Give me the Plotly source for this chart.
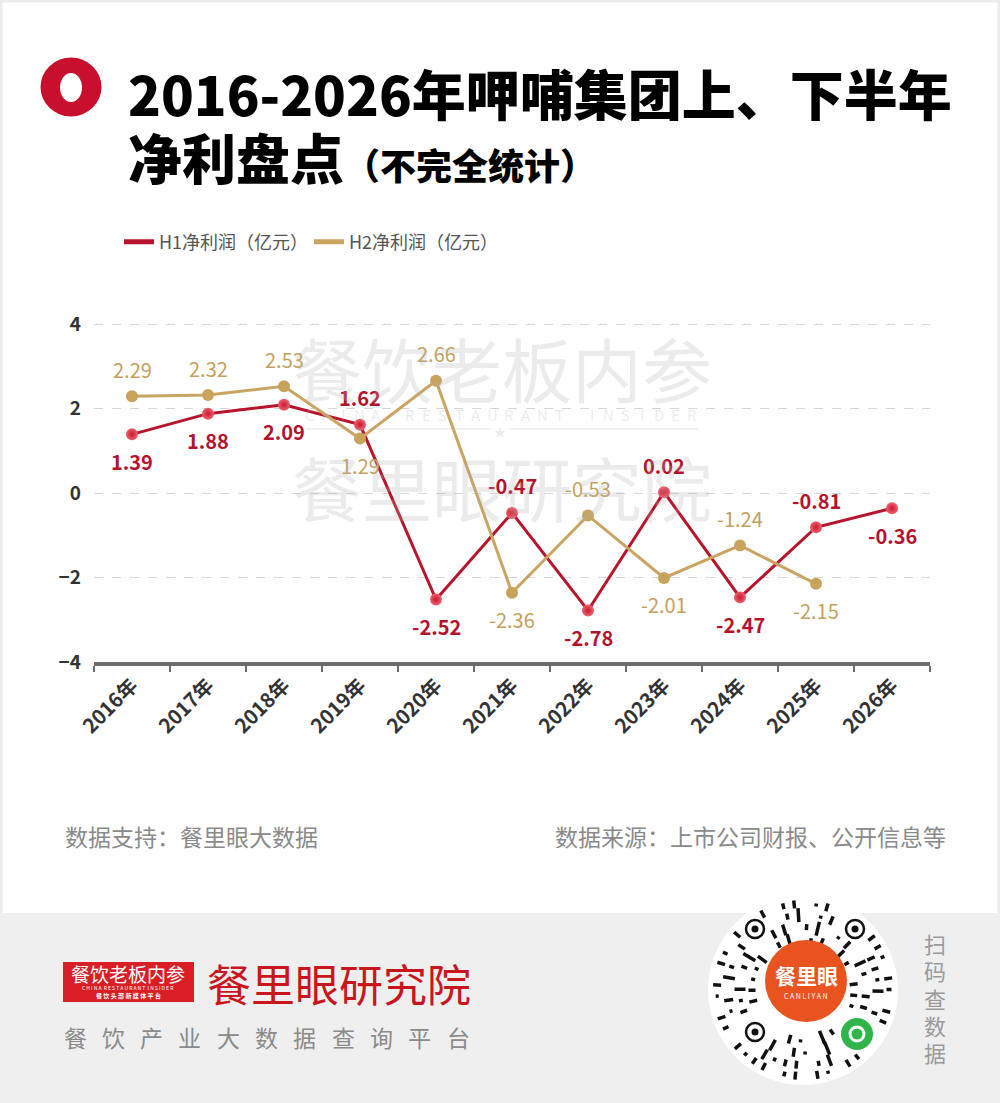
import math
import plotly.graph_objects as go

W, H = 1000, 1103

# data
years = ["2016年", "2017年", "2018年", "2019年", "2020年", "2021年",
         "2022年", "2023年", "2024年", "2025年", "2026年"]
h1_profit = [1.39, 1.88, 2.09, 1.62, -2.52, -0.47, -2.78, 0.02, -2.47, -0.81, -0.36]
h2_profit = [2.29, 2.32, 2.53, 1.29, 2.66, -2.36, -0.53, -2.01, -1.24, -2.15, None]
y_ticks = [-4, -2, 0, 2, 4]

# where the value labels sit (above / below the point)
h1_label_side = ["below", "below", "below", "above", "below", "above",
                 "below", "above", "below", "above", "below"]
h2_label_side = ["above", "above", "above", "below", "above", "below",
                 "above", "below", "above", "below", None]

RED = "#b8142d"
GOLD = "#c9a462"
FONT = "Noto Sans CJK SC"


def px(x):
    return x / W


def py(y):
    return 1 - y / H


def note(x, y, text, size, color, xanchor="center", weight="normal"):
    """Text placed in page pixels."""
    return dict(x=px(x), y=py(y), xref="paper", yref="paper", text=text,
                xanchor=xanchor, yanchor="middle", showarrow=False,
                font=dict(family=FONT, size=size, color=color, weight=weight))


fig = go.Figure()

# Lines
fig.add_trace(go.Scatter(
    x=years, y=h1_profit, mode="lines+markers", name="H1净利润（亿元）",
    line=dict(color=RED, width=3),
    marker=dict(size=12, color="#f0606e", gradient=dict(type="radial", color="#c8192f")),
    cliponaxis=False, showlegend=False, hoverinfo="x+y",
))
fig.add_trace(go.Scatter(
    x=years, y=h2_profit, mode="lines+markers", name="H2净利润（亿元）",
    line=dict(color=GOLD, width=3),
    marker=dict(size=12, color="#c9a35c"),
    cliponaxis=False, showlegend=False, hoverinfo="x+y",
))

# legend entries (line only, like the original)
for name, color in [("H1净利润（亿元）", RED), ("H2净利润（亿元）", GOLD)]:
    fig.add_trace(go.Scatter(x=[None], y=[None], mode="lines", name=name,
                             line=dict(color=color, width=5)))

annotations = []

# value labels
for series, sides, color, weight in [
    (h1_profit, h1_label_side, "#b3132c", "bold"),
    (h2_profit, h2_label_side, "#c4a060", "normal"),
]:
    for yr, val, side in zip(years, series, sides):
        if val is None:
            continue
        annotations.append(dict(
            x=yr, y=val, xref="x", yref="y", text=f"{val:.2f}", showarrow=False,
            xanchor="center", yanchor="middle",
            yshift=27 if side == "above" else -27,
            font=dict(family=FONT, size=20, color=color, weight=weight),
        ))

# title
annotations.append(note(126, 93, "2016-2026年呷哺集团上、下半年", 54, "#000000",
                        xanchor="left", weight=900))
annotations.append(note(126, 156, '净利盘点<span style="font-size:36px">（不完全统计）</span>',
                        54, "#000000", xanchor="left", weight=900))

# watermark
wm = "rgba(175,175,175,0.25)"
annotations.append(note(502, 367, "餐饮老板内参", 70, wm))
annotations.append(note(502, 486, "餐里眼研究院", 70, wm))
annotations.append(note(500, 431, "★", 12, wm))
for i, ch in enumerate("CHINA RESTAURANT INSIDER"):
    if ch != " ":
        annotations.append(note(310 + i * 16.6, 415, ch, 15, wm))

# source notes
annotations.append(note(63, 836, "数据支持：餐里眼大数据", 23, "#8a8a8a", xanchor="left"))
annotations.append(note(948, 836, "数据来源：上市公司财报、公开信息等", 23, "#8a8a8a",
                        xanchor="right"))

# footer brand
annotations += [
    note(128, 974, "餐饮老板内参", 19, "white"),
    note(128, 987, "C H I N A  R E S T A U R A N T  I N S I D E R", 5, "white"),
    note(128, 995, "餐 饮 头 部 新 媒 体 平 台", 6, "white", weight="bold"),
    note(205, 983, "餐里眼研究院", 44, "#c9161e", xanchor="left"),
    note(806, 975, "餐里眼", 21, "white", weight="bold"),
    note(806, 996, "C A N L I Y A N", 7, "white"),
]
for i, ch in enumerate("餐饮产业大数据查询平台"):
    annotations.append(note(75 + i * 38.3, 1037, ch, 23, "#8a8a8a"))
for i, ch in enumerate("扫码查数据"):
    annotations.append(note(935, 943 + i * 27.3, ch, 22, "#9a9a9a"))


def circle(cx, cy, rx, ry=None, fill=None, line=None, lw=0):
    ry = rx if ry is None else ry
    return dict(type="circle", xref="paper", yref="paper", layer="above",
                x0=px(cx - rx), x1=px(cx + rx), y0=py(cy + ry), y1=py(cy - ry),
                fillcolor=fill, line=dict(color=line or "rgba(0,0,0,0)", width=lw))


shapes = [
    # page border
    dict(type="rect", xref="paper", yref="paper", x0=0, x1=1, y0=0, y1=1,
         line=dict(color="#ebebeb", width=5), layer="above"),
    # title icon
    circle(71, 87, 30.5, 29.5, fill="#c8102e"),
    circle(71, 87.5, 11, 14.5, fill="white"),
    # footer band
    dict(type="rect", xref="paper", yref="paper", x0=0, x1=1, y0=0, y1=py(913),
         fillcolor="#efefef", line=dict(width=0), layer="above"),
    # watermark rule
    dict(type="line", xref="paper", yref="paper", x0=px(305), x1=px(490),
         y0=py(429), y1=py(429), line=dict(color=wm, width=1.5)),
    dict(type="line", xref="paper", yref="paper", x0=px(510), x1=px(698),
         y0=py(429), y1=py(429), line=dict(color=wm, width=1.5)),
    # red logo box
    dict(type="rect", xref="paper", yref="paper", x0=px(63), x1=px(194),
         y0=py(1002), y1=py(962), fillcolor="#d91f26", line=dict(width=0), layer="above"),
    # mini-program code
    circle(803, 990, 95, fill="white"),
]

# mini-program code: radial dashes
qc = (803, 990)
finders = [(755, 929), (855, 929), (755, 1032)]
green = (857, 1034)
dash_len = [4, 11, 0, 6, 14, 0, 3, 9, 0, 12, 5, 0, 8, 7]
k = 0
for ring in [51, 63, 75, 86]:
    n = int(2 * math.pi * ring / 11)
    for j in range(n):
        ang = 2 * math.pi * j / n + ring * 0.07
        L = dash_len[k % len(dash_len)]
        k += 1
        if L == 0:
            continue
        L = min(L, 2 * (90 - ring))
        mx, my = qc[0] + ring * math.cos(ang), qc[1] + ring * math.sin(ang)
        if any(math.hypot(mx - fx, my - fy) < 16 for fx, fy in finders):
            continue
        if math.hypot(mx - green[0], my - green[1]) < 22:
            continue
        dx, dy = math.cos(ang) * L / 2, math.sin(ang) * L / 2
        shapes.append(dict(type="line", xref="paper", yref="paper", layer="above",
                           x0=px(mx - dx), x1=px(mx + dx), y0=py(my - dy), y1=py(my + dy),
                           line=dict(color="#111111", width=3.5)))
for fx, fy in finders:
    shapes.append(circle(fx, fy, 9, fill="white", line="#111111", lw=2.5))
    shapes.append(circle(fx, fy, 3.5, fill="#111111"))
shapes.append(circle(806, 981, 41, fill="#e9531f"))
shapes.append(circle(857, 1034, 16, fill="#2fb54a"))
shapes.append(circle(857, 1034, 7, fill="rgba(0,0,0,0)", line="white", lw=3))

fig.update_layout(
    width=W, height=H, autosize=False,
    margin=dict(l=0, r=0, t=0, b=0, pad=0, autoexpand=False),
    paper_bgcolor="white", plot_bgcolor="white",
    font=dict(family=FONT, color="#333333"),
    showlegend=True,
    legend=dict(
        orientation="h", x=px(119), y=py(242), xanchor="left", yanchor="middle",
        font=dict(family=FONT, size=18, color="#555555"),
        entrywidth=145, entrywidthmode="pixels", itemwidth=30,
        bgcolor="rgba(0,0,0,0)",
    ),
    xaxis=dict(
        domain=[px(94), px(930)], type="category", range=[-0.5, 10.5],
        showline=True, linecolor="#6b6b6b", linewidth=4,
        ticks="outside", tickson="boundaries", ticklen=6, tickwidth=2, tickcolor="#6b6b6b",
        tickangle=-45, tickfont=dict(family=FONT, size=20, color="#333333", weight="bold"),
        showgrid=False, zeroline=False, fixedrange=True, automargin=False,
    ),
    yaxis=dict(
        domain=[py(662), py(303)], range=[-4, 4.5], tickvals=y_ticks,
        showgrid=True, gridcolor="#d6d6d6", griddash="dash", gridwidth=1,
        zeroline=False, showline=False, ticks="", ticklabelstandoff=12,
        tickfont=dict(family=FONT, size=19, color="#333333", weight="bold"),
        fixedrange=True, automargin=False,
    ),
    annotations=annotations,
    shapes=shapes,
)

page_css = ("document.documentElement.style.margin='0';"
            "document.documentElement.style.padding='0';"
            "document.documentElement.style.overflow='hidden';"
            "document.body.style.margin='0';document.body.style.padding='0';"
            "document.body.style.overflow='hidden';")
fig.write_html("out.html", config={"displayModeBar": False}, post_script=page_css)
